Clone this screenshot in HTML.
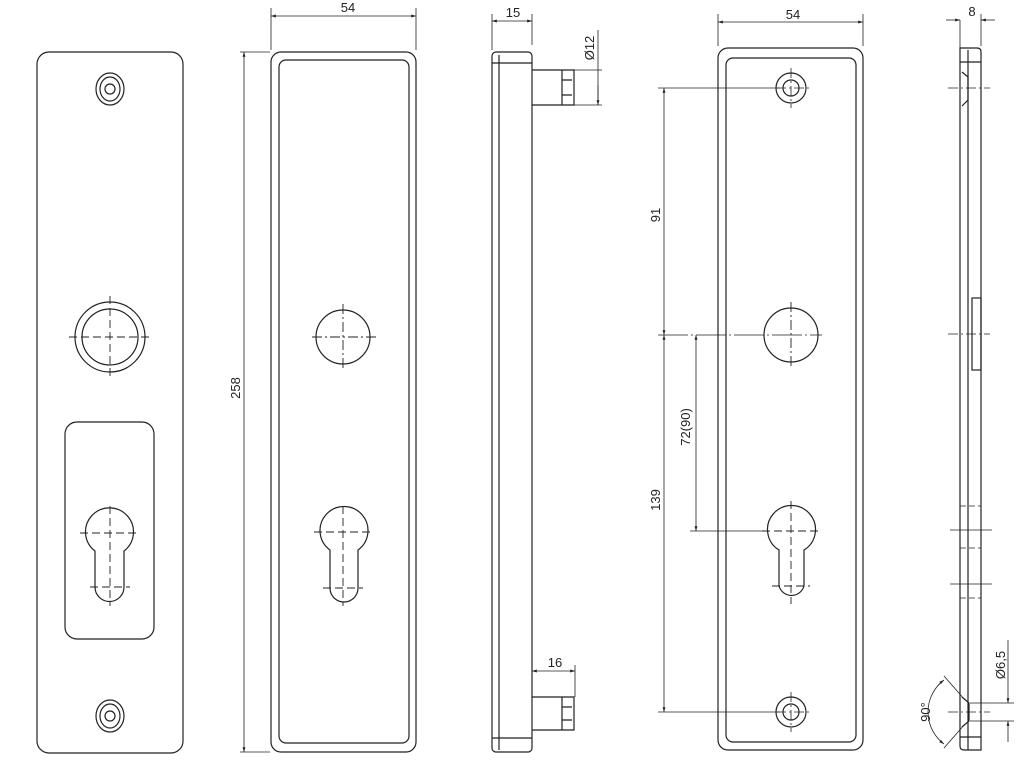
<!DOCTYPE html>
<html><head><meta charset="utf-8"><style>html,body{margin:0;padding:0;background:#fff}svg{display:block}</style></head>
<body>
<svg width="1024" height="768" viewBox="0 0 1024 768" xmlns="http://www.w3.org/2000/svg" font-family="Liberation Sans, sans-serif" font-size="13" fill="none" stroke="#222" stroke-width="1.2">
<defs>
<marker id="a" viewBox="0 0 10 10" refX="10" refY="5" markerWidth="9" markerHeight="6" orient="auto-start-reverse"><path d="M0,2 L10,5 L0,8 z" fill="#222" stroke="none"/></marker>
</defs>
<g id="v1">
<rect x="37" y="52" width="146" height="701" rx="12"/>
<ellipse cx="110" cy="89" rx="14" ry="16"/><ellipse cx="110" cy="89" rx="10" ry="12"/><circle cx="110" cy="89" r="5"/>
<ellipse cx="110" cy="716" rx="14" ry="16"/><ellipse cx="110" cy="716" rx="10" ry="12"/><circle cx="110" cy="716" r="5"/>
<circle cx="110" cy="337" r="35"/><circle cx="110" cy="337" r="28"/>
<path d="M69 337H151M110 296V378" stroke-dasharray="8 4" stroke-width="0.9"/>
<rect x="65" y="422" width="89" height="217" rx="12"/>
<path d="M95 551 A24 24 0 1 1 124 551 V587 A14.5 14.5 0 0 1 95 587 Z"/>
<path d="M80 533H139M110 506V606M90 587H130" stroke-dasharray="8 4" stroke-width="0.9"/>
</g>
<g id="v2">
<rect x="271" y="52" width="145" height="700" rx="10"/>
<rect x="279" y="60" width="130" height="683" rx="7"/>
<line x1="271" y1="8" x2="271" y2="50" stroke-width="0.8"/><line x1="416" y1="8" x2="416" y2="50" stroke-width="0.8"/>
<line x1="271" y1="16" x2="416" y2="16" stroke-width="0.8" marker-start="url(#a)" marker-end="url(#a)"/>
<text x="348" y="12" text-anchor="middle" fill="#222" stroke="none">54</text>
<line x1="240" y1="52" x2="270" y2="52" stroke-width="0.8"/><line x1="240" y1="752" x2="270" y2="752" stroke-width="0.8"/>
<line x1="244" y1="52" x2="244" y2="752" stroke-width="0.8" marker-start="url(#a)" marker-end="url(#a)"/>
<text transform="translate(240 388) rotate(-90)" text-anchor="middle" fill="#222" stroke="none">258</text>
<circle cx="343" cy="337" r="27"/>
<path d="M312 337H376M343 304V370" stroke-dasharray="10 3 2 3" stroke-width="0.9"/>
<path d="M330 550 A24 24 0 1 1 358 550 V588 A14 14 0 0 1 330 588 Z"/>
<path d="M314 532H374M343 506V606M323 588H363" stroke-dasharray="8 4" stroke-width="0.9"/>
</g>
<g id="v3">
<rect x="492" y="52" width="40" height="700" rx="4"/>
<line x1="499" y1="55" x2="499" y2="750"/>
<line x1="492" y1="63" x2="532" y2="63"/><line x1="492" y1="738" x2="532" y2="738"/>
<path d="M532 70H574V105H532"/><path d="M562 70V105M562 80H572M562 95H572"/>
<path d="M532 697H574V730H532"/><path d="M562 697V730M562 707H572M562 720H572"/>
<line x1="492" y1="14" x2="492" y2="50" stroke-width="0.8"/><line x1="532" y1="14" x2="532" y2="45" stroke-width="0.8"/>
<line x1="492" y1="21" x2="532" y2="21" stroke-width="0.8" marker-start="url(#a)" marker-end="url(#a)"/>
<text x="513" y="17" text-anchor="middle" fill="#222" stroke="none">15</text>
<line x1="574" y1="70" x2="602" y2="70" stroke-width="0.8"/><line x1="574" y1="105" x2="602" y2="105" stroke-width="0.8"/>
<line x1="598" y1="30" x2="598" y2="105" stroke-width="0.8"/>
<line x1="598" y1="85" x2="598" y2="105" stroke-width="0.8" marker-end="url(#a)"/>
<text transform="translate(594 48) rotate(-90)" text-anchor="middle" fill="#222" stroke="none">Ø12</text>
<line x1="575" y1="665" x2="575" y2="697" stroke-width="0.8"/>
<line x1="532" y1="671" x2="575" y2="671" stroke-width="0.8" marker-start="url(#a)" marker-end="url(#a)"/>
<text x="555" y="667" text-anchor="middle" fill="#222" stroke="none">16</text>
</g>
<g id="v4">
<rect x="718" y="48" width="145" height="702" rx="10"/>
<rect x="726" y="58" width="130" height="684" rx="7"/>
<line x1="718" y1="14" x2="718" y2="46" stroke-width="0.8"/><line x1="863" y1="14" x2="863" y2="46" stroke-width="0.8"/>
<line x1="718" y1="22" x2="863" y2="22" stroke-width="0.8" marker-start="url(#a)" marker-end="url(#a)"/>
<text x="793" y="19" text-anchor="middle" fill="#222" stroke="none">54</text>
<circle cx="791" cy="88" r="15"/><circle cx="791" cy="88" r="8"/>
<circle cx="791" cy="712" r="15"/><circle cx="791" cy="712" r="8"/>
<path d="M776 88H812M791 68V108M776 712H812M791 692V732" stroke-width="0.8" stroke-dasharray="10 3 2 3"/>
<circle cx="791" cy="335" r="27"/>
<path d="M791 302V368" stroke-dasharray="10 3 2 3" stroke-width="0.9"/>
<path d="M779 550 A24 24 0 1 1 804 550 V586 A13 13 0 0 1 779 586 Z"/>
<path d="M762 531H820M791 501V604M772 586H810" stroke-dasharray="8 4" stroke-width="0.9"/>
<line x1="658" y1="88" x2="780" y2="88" stroke-width="0.8"/>
<line x1="658" y1="335" x2="822" y2="335" stroke-width="0.8" stroke-dasharray="30 3 2 3"/>
<line x1="690" y1="531" x2="764" y2="531" stroke-width="0.8"/>
<line x1="658" y1="712" x2="780" y2="712" stroke-width="0.8"/>
<line x1="664" y1="88" x2="664" y2="335" stroke-width="0.8" marker-start="url(#a)" marker-end="url(#a)"/>
<line x1="664" y1="335" x2="664" y2="712" stroke-width="0.8" marker-start="url(#a)" marker-end="url(#a)"/>
<line x1="696" y1="335" x2="696" y2="531" stroke-width="0.8" marker-start="url(#a)" marker-end="url(#a)"/>
<text transform="translate(660 215) rotate(-90)" text-anchor="middle" fill="#222" stroke="none">91</text>
<text transform="translate(660 500) rotate(-90)" text-anchor="middle" fill="#222" stroke="none">139</text>
<text transform="translate(690 427) rotate(-90)" text-anchor="middle" fill="#222" stroke="none">72(90)</text>
</g>
<g id="v5">
<path d="M960 48H977Q981 48 981 52V750H964Q960 750 960 746Z"/>
<line x1="968" y1="50" x2="968" y2="750"/>
<line x1="960" y1="62" x2="981" y2="62"/><line x1="960" y1="737" x2="981" y2="737"/>
<path d="M962 72L968 77V100L962 106"/>
<path d="M948 88H990" stroke-width="0.7" stroke-dasharray="10 3 2 3"/>
<rect x="972" y="298" width="9" height="72"/>
<path d="M948 334H990" stroke-width="0.7" stroke-dasharray="10 3 2 3"/>
<path d="M960 506H981M960 548H981M960 598H981" stroke-width="0.8" stroke-dasharray="6 3"/>
<path d="M950 530H992M950 584H992" stroke-width="0.8"/>
<path d="M962 697L969 703V721L962 727"/>
<path d="M948 712H990" stroke-width="0.7" stroke-dasharray="10 3 2 3"/>
<line x1="960" y1="20" x2="960" y2="48" stroke-width="0.8"/><line x1="981" y1="14" x2="981" y2="46" stroke-width="0.8"/>
<line x1="946" y1="20" x2="960" y2="20" stroke-width="0.8" marker-end="url(#a)"/>
<line x1="995" y1="20" x2="981" y2="20" stroke-width="0.8" marker-end="url(#a)"/>
<text x="972" y="16" text-anchor="middle" fill="#222" stroke="none">8</text>
<path d="M944 676L965 700M944 748L965 724" stroke-width="0.8"/>
<path d="M944 680 A40 40 0 0 0 944 744" stroke-width="0.8" marker-start="url(#a)" marker-end="url(#a)"/>
<text transform="translate(930 712) rotate(-90)" text-anchor="middle" fill="#222" stroke="none">90°</text>
<line x1="970" y1="703" x2="1014" y2="703" stroke-width="0.7"/><line x1="970" y1="721" x2="1014" y2="721" stroke-width="0.7"/>
<line x1="1008" y1="640" x2="1008" y2="703" stroke-width="0.8" marker-end="url(#a)"/>
<line x1="1008" y1="742" x2="1008" y2="721" stroke-width="0.8" marker-end="url(#a)"/>
<text transform="translate(1005 665) rotate(-90)" text-anchor="middle" fill="#222" stroke="none">Ø6,5</text>
</g>
</svg>
</body></html>
